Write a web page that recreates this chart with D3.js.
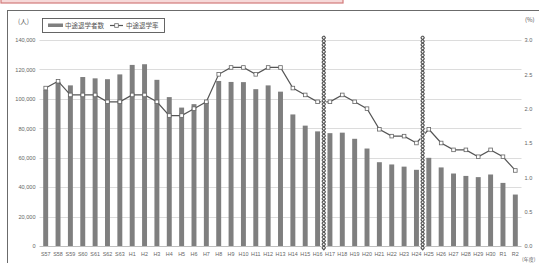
<!DOCTYPE html>
<html><head><meta charset="utf-8">
<script src="https://cdn.jsdelivr.net/npm/d3@7"></script>
<style>body{margin:0;background:#fff;}svg{display:block;font-family:"Noto Sans CJK JP","Noto Sans",sans-serif;}</style>
</head><body><svg id="c" width="539" height="263"></svg>
<script>
const categories = ["S57","S58","S59","S60","S61","S62","S63","H1","H2","H3","H4","H5","H6","H7","H8","H9","H10","H11","H12","H13","H14","H15","H16","H17","H18","H19","H20","H21","H22","H23","H24","H25","H26","H27","H28","H29","H30","R1","R2"];
const dropouts = [106041,111531,109160,114834,113938,113357,116617,123069,123529,112933,101194,94065,96401,98179,112150,111491,111372,106578,109146,104894,89409,81799,77897,76693,77027,72854,66243,56947,55415,53937,51781,59923,53391,49263,47623,46802,48594,42882,34965];
const rates = [2.3,2.4,2.2,2.2,2.2,2.1,2.1,2.2,2.2,2.1,1.9,1.9,2.0,2.1,2.5,2.6,2.6,2.5,2.6,2.6,2.3,2.2,2.1,2.1,2.2,2.1,2.0,1.7,1.6,1.6,1.5,1.7,1.5,1.4,1.4,1.3,1.4,1.3,1.1];
const leftTicks = [0,20000,40000,60000,80000,100000,120000,140000];
const rightTicks = [0,0.5,1.0,1.5,2.0,2.5,3.0];
const breaksAfter = ["H16","H24"];
const legendLabels = ["中途退学者数","中途退学率"];

const svg = d3.select("#c");
// top pink box remnant
svg.append("rect").attr("x",1).attr("y",-10).attr("width",342).attr("height",13)
  .attr("fill","#f6d9d9").attr("stroke","#d27a7a").attr("stroke-width",1.2);
// chart frame
svg.append("rect").attr("x",7.5).attr("y",10.5).attr("width",540).attr("height",260)
  .attr("fill","none").attr("stroke","#6b6b6b").attr("stroke-width",1);

const x = d3.scaleBand().domain(categories).range([39.5,521.5]).paddingInner(0.6).paddingOuter(0.3);
const y = d3.scaleLinear().domain([0,140000]).range([246,40]);
const y2 = d3.scaleLinear().domain([0,3.0]).range([246,40]);

// gridlines
svg.append("g").selectAll("line").data(leftTicks.slice(1)).join("line")
  .attr("x1",39.5).attr("x2",521.5).attr("y1",d=>Math.round(y(d))+0.5).attr("y2",d=>Math.round(y(d))+0.5)
  .attr("stroke","#dcdcdc").attr("stroke-width",1);

// left axis
const la = svg.append("g").attr("transform","translate(39.5,0)")
  .call(d3.axisLeft(y).tickValues(leftTicks).tickSize(0).tickPadding(4).tickFormat(d3.format(",")));
la.select(".domain").remove();
la.selectAll("text").attr("font-size",5.6).attr("fill","#666");

// right axis
const ra = svg.append("g").attr("transform","translate(521.5,0)")
  .call(d3.axisRight(y2).tickValues(rightTicks).tickSize(0).tickPadding(3).tickFormat(d3.format(".1f")));
ra.select(".domain").remove();
ra.selectAll("text").attr("font-size",5.6).attr("fill","#666");

// bars
svg.append("g").selectAll("rect").data(categories).join("rect")
  .attr("x",d=>x(d)).attr("width",x.bandwidth())
  .attr("y",(d,i)=>y(dropouts[i])).attr("height",(d,i)=>246-y(dropouts[i]))
  .attr("fill","#7f7f7f");

// baseline
svg.append("line").attr("x1",39.5).attr("x2",521.5).attr("y1",246.5).attr("y2",246.5).attr("stroke","#bfbfbf");

// line
const cx = d => x(d)+x.bandwidth()/2;
const line = d3.line().x((d,i)=>cx(categories[i])).y(d=>y2(d));
svg.append("path").datum(rates).attr("d",line).attr("fill","none").attr("stroke","#555").attr("stroke-width",1.2);
svg.append("g").selectAll("rect").data(rates).join("rect")
  .attr("x",(d,i)=>cx(categories[i])-1.8).attr("y",d=>y2(d)-1.8).attr("width",3.6).attr("height",3.6)
  .attr("fill","#fff").attr("stroke","#666").attr("stroke-width",0.8);

// wavy break markers
breaksAfter.forEach(c=>{
  const i = categories.indexOf(c);
  const bx = (cx(categories[i])+cx(categories[i+1]))/2;
  const top=36, bot=250, amp=1.6, per=7;
  const pts = d3.range(top,bot+0.5,0.5);
  const g = svg.append("g");
  g.append("rect").attr("x",bx-2.5).attr("y",top).attr("width",5).attr("height",bot-top).attr("fill","#fff").attr("opacity",0.9);
  [0,Math.PI].forEach(ph=>{
    g.append("path").attr("d",d3.line()(pts.map(yy=>[bx+amp*Math.sin((yy-top)/per*2*Math.PI+ph),yy])))
      .attr("fill","none").attr("stroke","#555").attr("stroke-width",1.1);
  });
});

// x axis labels
const xa = svg.append("g").attr("transform","translate(0,247)")
  .call(d3.axisBottom(x).tickSize(0).tickPadding(5));
xa.select(".domain").remove();
xa.selectAll("text").attr("font-size",5.4).attr("fill","#666");

// unit labels
svg.append("text").attr("x",18).attr("y",24).attr("font-size",6.5).attr("fill","#555").text("(人)");
svg.append("text").attr("x",525).attr("y",22).attr("font-size",6).attr("fill","#555").text("(%)");
svg.append("text").attr("x",522).attr("y",261).attr("font-size",5).attr("fill","#555").text("(年度)");

// legend
const lg = svg.append("g");
lg.append("rect").attr("x",42.5).attr("y",18.5).attr("width",122).attr("height",14).attr("fill","#fff").attr("stroke","#555").attr("stroke-width",0.9);
lg.append("rect").attr("x",48).attr("y",23.5).attr("width",15).attr("height",3.5).attr("fill","#7f7f7f");
lg.append("text").attr("x",65).attr("y",28).attr("font-size",6.5).attr("fill","#555").text(legendLabels[0]);
lg.append("line").attr("x1",110).attr("x2",123).attr("y1",25.5).attr("y2",25.5).attr("stroke","#555").attr("stroke-width",1.2);
lg.append("rect").attr("x",114.7).attr("y",23.7).attr("width",3.6).attr("height",3.6).attr("fill","#fff").attr("stroke","#666").attr("stroke-width",0.8);
lg.append("text").attr("x",126).attr("y",28).attr("font-size",6.5).attr("fill","#555").text(legendLabels[1]);
</script></body></html>
